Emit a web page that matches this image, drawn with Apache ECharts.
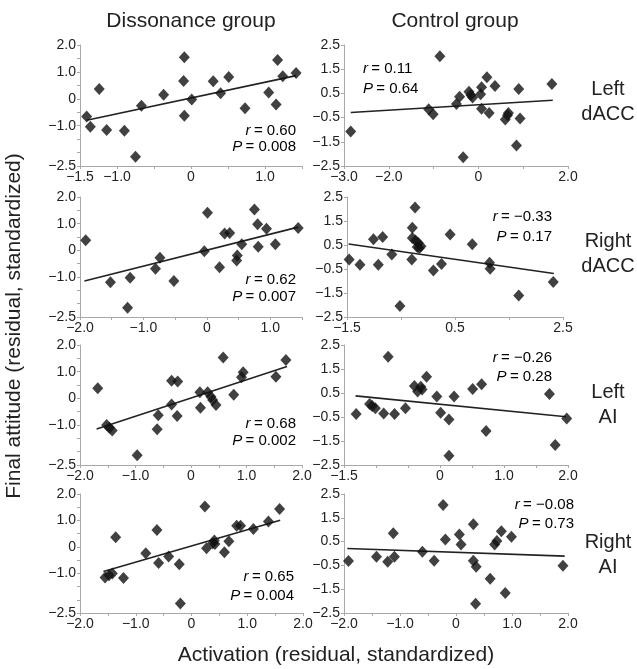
<!DOCTYPE html>
<html><head><meta charset="utf-8">
<script src="https://cdn.jsdelivr.net/npm/echarts@6/dist/echarts.min.js"></script>
<style>html,body{margin:0;padding:0;background:#fff}#c{width:637px;height:669px}</style>
</head><body><div id="c"></div>
<script>
// ---- Data ----
const columnTitles = ['Dissonance group', 'Control group'];
const rowLabels = ['Left\ndACC', 'Right\ndACC', 'Left\nAI', 'Right\nAI'];
const yTitle = 'Final attitude (residual, standardized)';
const xTitle = 'Activation (residual, standardized)';

// Row 1: Left dACC
const leftDaccDiss = [[-1.41,-0.66],[-1.36,-1.04],[-1.24,0.36],[-1.14,-1.16],[-0.90,-1.19],[-0.75,-2.16],[-0.67,-0.26],[-0.37,0.15],[-0.09,1.54],[-0.10,0.66],[-0.09,-0.63],[0.01,-0.03],[0.30,0.65],[0.40,0.21],[0.51,0.81],[0.73,-0.35],[1.05,0.23],[1.15,-0.21],[1.17,1.44],[1.24,0.84],[1.42,0.96]];
const leftDaccDissFit = [[-1.41,-0.80],[1.42,0.86]];
const leftDaccCtrl = [[-2.85,-1.07],[-0.86,2.03],[-1.11,-0.15],[-1.01,-0.36],[-0.49,0.06],[-0.42,0.36],[-0.34,-2.14],[-0.21,0.57],[-0.17,0.43],[-0.13,0.33],[0.05,0.47],[0.07,0.75],[0.07,-0.13],[0.19,1.17],[0.24,-0.31],[0.37,0.81],[0.60,-0.58],[0.65,-0.40],[0.67,-0.31],[0.85,-1.65],[0.90,0.68],[0.93,-0.54],[1.64,0.89]];
const leftDaccCtrlFit = [[-2.85,-0.29],[1.66,0.22]];

// Row 2: Right dACC
const rightDaccDiss = [[-1.91,0.38],[-1.52,-1.20],[-1.21,-1.03],[-1.25,-2.15],[-0.81,-0.69],[-0.74,-0.28],[-0.52,-1.15],[-0.04,-0.03],[0.01,1.41],[0.20,-0.63],[0.28,0.63],[0.36,0.65],[0.47,-0.38],[0.48,-0.19],[0.55,0.23],[0.75,1.53],[0.80,0.98],[0.81,0.13],[0.94,0.81],[1.08,0.23],[1.44,0.84]];
const rightDaccDissFit = [[-1.93,-1.15],[1.44,0.87]];
const rightDaccCtrl = [[-1.46,-0.10],[-1.26,-0.32],[-1.01,0.74],[-0.92,-0.32],[-0.84,0.83],[-0.67,0.10],[-0.52,-2.04],[-0.30,-0.10],[-0.29,1.22],[-0.29,0.79],[-0.24,2.06],[-0.23,0.69],[-0.20,0.42],[-0.18,0.58],[-0.16,0.38],[-0.13,0.45],[0.10,-0.56],[0.25,-0.29],[0.41,0.94],[0.82,0.53],[1.14,-0.24],[1.15,-0.49],[1.68,-1.60],[2.32,-1.04]];
const rightDaccCtrlFit = [[-1.47,0.54],[2.33,-0.69]];

// Row 3: Left AI
const leftAiDiss = [[-1.68,0.38],[-1.52,-1.00],[-1.47,-1.10],[-1.42,-1.21],[-0.97,-2.13],[-0.61,-1.16],[-0.59,-0.63],[-0.35,-0.23],[-0.35,0.66],[-0.24,0.63],[-0.25,-0.66],[0.16,0.23],[0.17,-0.35],[0.30,0.23],[0.36,0.06],[0.39,-0.06],[0.45,-0.25],[0.58,1.53],[0.77,0.13],[0.91,0.79],[0.94,0.98],[1.53,0.81],[1.71,1.44]];
const leftAiDissFit = [[-1.70,-1.15],[1.73,1.19]];
const leftAiCtrl = [[-1.31,-0.38],[-1.10,0.04],[-1.06,-0.04],[-1.01,-0.14],[-0.88,-0.35],[-0.81,2.01],[-0.71,-0.38],[-0.54,-0.14],[-0.40,0.79],[-0.35,0.56],[-0.30,0.76],[-0.28,0.65],[-0.21,1.18],[-0.05,0.35],[0.01,-0.32],[0.14,-0.60],[0.14,-2.11],[0.22,0.35],[0.51,0.67],[0.65,0.86],[0.72,-1.08],[1.71,0.46],[1.80,-1.67],[1.98,-0.56]];
const leftAiCtrlFit = [[-1.32,0.38],[1.97,-0.49]];

// Row 4: Right AI
const rightAiDiss = [[-1.55,-1.16],[-1.48,-1.07],[-1.42,-1.01],[-1.36,0.36],[-1.22,-1.18],[-0.82,-0.24],[-0.62,0.64],[-0.59,-0.61],[-0.41,-0.36],[-0.22,-0.66],[-0.20,-2.14],[0.24,1.53],[0.27,-0.05],[0.38,0.14],[0.41,0.24],[0.42,0.11],[0.59,-0.20],[0.67,0.21],[0.81,0.80],[0.88,0.80],[1.11,0.68],[1.38,0.96],[1.58,1.43]];
const rightAiDissFit = [[-1.58,-0.93],[1.59,1.01]];
const rightAiCtrl = [[-1.92,-0.32],[-1.42,-0.14],[-1.22,-0.35],[-1.12,0.85],[-1.10,-0.14],[-0.60,0.07],[-0.39,-0.30],[-0.23,2.04],[-0.19,0.59],[0.06,0.80],[0.09,0.38],[0.31,1.23],[0.31,-0.30],[0.36,-0.56],[0.35,-2.11],[0.61,-1.06],[0.69,0.38],[0.73,0.52],[0.81,0.94],[0.88,-1.66],[0.99,0.70],[1.91,-0.51]];
const rightAiCtrlFit = [[-1.94,0.21],[1.94,-0.11]];

const stats = [['0.60','0.008'],['0.11','0.64'],['0.62','0.007'],['−0.33','0.17'],['0.68','0.002'],['−0.26','0.28'],['0.65','0.004'],['−0.08','0.73']];

// Axis ranges and tick labels
const xRanges = [[-1.5,1.5,0.5],[-3,2,1],[-2,1.5,0.5],[-1.5,2.5,1],[-2,2,0.5],[-1.5,2,0.5],[-2,2,0.5],[-2,2,0.5]];
const xLabelSets = [[-1.5,-1,0,1],[-3,-2,0,2],[-2,-1,0,1],[-1.5,0.5,2.5],[-2,-1,0,1,2],[-1.5,0,1,2],[-2,-1,0,1,2],[-2,-1,0,1,2]];
const yRangeDiss = [-2.5,2.0,0.5];
const yLabelsDiss = [2,1,0,-1,-2.5];
const yRangeCtrl = [-2.5,2.5,1];
const yLabelsCtrl = [2.5,1.5,0.5,-0.5,-1.5,-2.5];

// ---- Layout ----
const rowTops = [45,197,345,494];
const rowHeights = [121,120,120,119];
const colLefts = [[80,344],[80,347],[80,344],[80,344]];
const colWidths = [[222,224],[222,216],[222,224],[223,224]];

const scatterSets = [leftDaccDiss,leftDaccCtrl,rightDaccDiss,rightDaccCtrl,leftAiDiss,leftAiCtrl,rightAiDiss,rightAiCtrl];
const fitSets = [leftDaccDissFit,leftDaccCtrlFit,rightDaccDissFit,rightDaccCtrlFit,leftAiDissFit,leftAiCtrlFit,rightAiDissFit,rightAiCtrlFit];

function fmt(v){
  if (Math.abs(v) < 1e-9) return '0';
  return (v < 0 ? '−' : '') + Math.abs(v).toFixed(1);
}
function inSet(v, set){ return set.some(s => Math.abs(s - v) < 1e-6); }

const FONT = '"Liberation Sans", Arial, Helvetica, sans-serif';
const grids = [], xAxes = [], yAxes = [], series = [];
for (let i = 0; i < 8; i++) {
  const r = Math.floor(i/2), c = i % 2;
  grids.push({left: colLefts[r][c], top: rowTops[r], width: colWidths[r][c], height: rowHeights[r], containLabel:false});
  const xr = xRanges[i], xl = xLabelSets[i];
  xAxes.push({
    type:'value', gridIndex:i, min:xr[0], max:xr[1], interval:xr[2],
    axisLine:{show:true, onZero:false, lineStyle:{color:'#a8a8a8', width:1}},
    axisTick:{show:true, length:3, lineStyle:{color:'#a8a8a8'}},
    splitLine:{show:false},
    axisLabel:{fontSize:14, fontFamily:FONT, color:'#222', margin:4, showMinLabel:true, showMaxLabel:true,
      formatter: v => inSet(v, xl) ? fmt(v) : ''}
  });
  const yr = c === 0 ? yRangeDiss : yRangeCtrl;
  const yl = c === 0 ? yLabelsDiss : yLabelsCtrl;
  yAxes.push({
    type:'value', gridIndex:i, min:yr[0], max:yr[1], interval:yr[2],
    axisLine:{show:true, onZero:false, lineStyle:{color:'#a8a8a8', width:1}},
    axisTick:{show:true, length:3, lineStyle:{color:'#a8a8a8'}},
    splitLine:{show:false},
    axisLabel:{fontSize:14, fontFamily:FONT, color:'#222', margin:4, showMinLabel:true, showMaxLabel:true,
      formatter: v => inSet(v, yl) ? fmt(v) : ''}
  });
  series.push({type:'scatter', xAxisIndex:i, yAxisIndex:i, data:scatterSets[i], symbol:'diamond', symbolSize:[11,12],
    itemStyle:{color:'#111'}, silent:true, z:3});
  series.push({type:'line', xAxisIndex:i, yAxisIndex:i, data:fitSets[i], symbol:'none',
    lineStyle:{color:'#222', width:1.6}, silent:true, z:2});
}

// annotation positions [x, yLine1, yLine2, align]
const statPos = [[296,131,147,'right'],[363,69,89,'left'],[296,280,297,'right'],[552,217,237,'right'],[296,424,441,'right'],[552,358,377,'right'],[294,577,596,'right'],[574,505,524,'right']];
const rich = {i:{fontStyle:'italic', fontSize:15, fontFamily:FONT, color:'#222'}, n:{fontSize:15, fontFamily:FONT, color:'#222'}};
const graphics = [];
stats.forEach((s, i) => {
  const p = statPos[i];
  graphics.push({type:'text', x:p[0], y:p[1], style:{text:'{i|r} {n|= ' + s[0] + '}', rich, align:p[3], verticalAlign:'middle'}});
  graphics.push({type:'text', x:p[0], y:p[2], style:{text:'{i|P} {n|= ' + s[1] + '}', rich, align:p[3], verticalAlign:'middle'}});
});
const titleX = [191, 455];
columnTitles.forEach((t, i) => graphics.push({type:'text', x:titleX[i], y:21, style:{text:t, fontSize:21, fontFamily:FONT, fill:'#222', align:'center', verticalAlign:'middle'}}));
const rowLabelY = [102, 254, 405, 555];
rowLabels.forEach((t, i) => graphics.push({type:'text', x:608, y:rowLabelY[i], style:{text:t, fontSize:20, fontFamily:FONT, fill:'#222', align:'center', verticalAlign:'middle', lineHeight:25}}));
graphics.push({type:'text', x:14, y:326, rotation:Math.PI/2, style:{text:yTitle, fontSize:21, fontFamily:FONT, fill:'#222', align:'center', verticalAlign:'middle'}});
graphics.push({type:'text', x:336, y:655, style:{text:xTitle, fontSize:21, fontFamily:FONT, fill:'#222', align:'center', verticalAlign:'middle'}});

const chart = echarts.init(document.getElementById('c'), null, {renderer:'canvas'});
chart.setOption({animation:false, backgroundColor:'#fff', grid:grids, xAxis:xAxes, yAxis:yAxes, series, graphic:graphics});
</script></body></html>
